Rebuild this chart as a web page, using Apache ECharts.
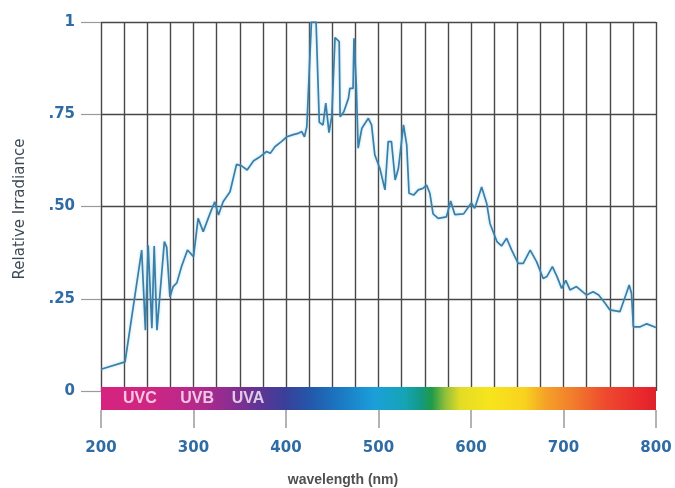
<!DOCTYPE html>
<html><head><meta charset="utf-8">
<script src="https://cdn.jsdelivr.net/npm/echarts@6/dist/echarts.min.js"></script>
<style>html,body{margin:0;padding:0;background:#fff;}#c{width:675px;height:488px;}</style>
</head><body><div id="c"></div>
<script>
var wavelengths = [200,226,244,248,251,255,257.5,260.5,268.5,271,274.5,278,282,287,293.5,300,305,310.5,318,323,327,332,339.5,346.5,352,358,365,372,379,383,388,395,401,407,413,417,420,422.5,427.5,432.5,436,440,443,446.5,449.5,453,457.5,458.5,462.5,467.5,469,472.5,473.5,476,478,482,489,492.5,496,501.5,507,510.5,514,518,521.5,527,530.5,533,538,543,548,552,555.5,559,564.5,573.5,578,582.5,592,600.5,604,611.5,617,620.5,628,633,638.5,644,651,656.5,664,671,678,682,688,693,698,702.5,707,714,725,732,738,745,750,761,768,771,773.5,775.5,783,790,800];
var irradiance = [0.059,0.079,0.382,0.165,0.395,0.17,0.393,0.165,0.405,0.39,0.255,0.283,0.293,0.337,0.382,0.364,0.468,0.432,0.482,0.513,0.477,0.513,0.54,0.614,0.61,0.599,0.624,0.635,0.649,0.644,0.662,0.676,0.689,0.694,0.698,0.703,0.689,0.716,1.0,1.0,0.728,0.721,0.78,0.70,0.745,0.958,0.947,0.743,0.757,0.793,0.82,0.82,0.956,0.829,0.658,0.712,0.739,0.721,0.64,0.603,0.545,0.676,0.676,0.572,0.603,0.721,0.667,0.536,0.531,0.545,0.549,0.558,0.536,0.48,0.468,0.472,0.515,0.478,0.48,0.51,0.495,0.553,0.508,0.454,0.405,0.393,0.414,0.382,0.346,0.346,0.382,0.35,0.305,0.31,0.337,0.31,0.278,0.30,0.274,0.283,0.26,0.269,0.26,0.238,0.22,0.215,0.265,0.287,0.265,0.174,0.174,0.182,0.172];
var yTickLabels = {"0":"0","0.25":".25","0.5":".50","0.75":".75","1":"1"};
var xTickValues = [200,300,400,500,600,700,800];
var bandNames = ["UVC","UVB","UVA"];
var bandCenters = [242,304,359];

var chart = echarts.init(document.getElementById('c'), null, {renderer:'canvas'});
var lineData = wavelengths.map(function(w,i){return [w, irradiance[i]];});
var bandData = bandNames.map(function(n,i){return [bandCenters[i], 0.5, n];});
var labelColor = '#2f6ca4';
var gridColor = '#484848';
chart.setOption({
  animation:false,
  backgroundColor:'#fff',
  grid:[
    {left:101, right:19, top:22, bottom:97},
    {left:101, right:19, top:387, bottom:78}
  ],
  xAxis:[
    {gridIndex:0, type:'value', min:200, max:800, interval:25,
     axisLine:{show:false}, axisTick:{show:false}, axisLabel:{show:false},
     splitLine:{show:true, lineStyle:{color:gridColor, width:1.4}}},
    {gridIndex:1, type:'value', min:200, max:800, interval:100, offset:7,
     axisLine:{show:false},
     axisTick:{show:true, length:18, lineStyle:{color:'#9a9a9a', width:1.5}},
     axisLabel:{show:true, margin:24, color:labelColor, fontSize:15, fontWeight:'bold', fontFamily:'DejaVu Sans',
       formatter:function(v){return xTickValues.indexOf(v)>=0 ? String(v) : '';}},
     splitLine:{show:false}}
  ],
  yAxis:[
    {gridIndex:0, type:'value', min:0, max:1, interval:0.25,
     axisLine:{show:false},
     axisTick:{show:true, length:20, lineStyle:{color:'#9a9a9a', width:1.2}},
     axisLabel:{show:true, margin:26, color:labelColor, fontSize:15, fontWeight:'bold', fontFamily:'DejaVu Sans',
       formatter:function(v){var k=String(+v.toFixed(2)); return yTickLabels[k]!==undefined?yTickLabels[k]:'';}},
     splitLine:{show:true, lineStyle:{color:gridColor, width:1.4}}},
    {gridIndex:1, type:'value', min:0, max:1, show:false}
  ],
  series:[
    {type:'line', xAxisIndex:0, yAxisIndex:0, data:lineData, symbol:'none', z:3,
     lineStyle:{color:'#3b7ea8', width:1.7, shadowColor:'rgba(120,200,235,0.6)', shadowBlur:3}},
    {type:'line', xAxisIndex:1, yAxisIndex:1, data:[[200,0],[800,0]], symbol:'none', lineStyle:{opacity:0}, silent:true,
     markArea:{silent:true, z:4, itemStyle:{opacity:1, color:new echarts.graphic.LinearGradient(0,0,1,0,[
       {offset:0,color:'#d6237f'},{offset:0.088,color:'#cf2683'},{offset:0.178,color:'#b3298c'},
       {offset:0.232,color:'#8c2d91'},{offset:0.286,color:'#5e3595'},{offset:0.331,color:'#3a3f9a'},
       {offset:0.377,color:'#2358aa'},{offset:0.43,color:'#1b78c3'},{offset:0.494,color:'#1ba0da'},
       {offset:0.548,color:'#14a4b4'},{offset:0.575,color:'#139a86'},{offset:0.596,color:'#1f9a48'},
       {offset:0.62,color:'#8fbf3a'},{offset:0.647,color:'#e3dc25'},{offset:0.70,color:'#f7e51c'},
       {offset:0.764,color:'#f8d21e'},{offset:0.80,color:'#f5a228'},{offset:0.854,color:'#f17a2c'},
       {offset:0.908,color:'#ee4a2f'},{offset:0.98,color:'#e8262c'},{offset:1,color:'#d9242b'}])},
       label:{show:false},
       data:[[{coord:[200,0]},{coord:[800,1]}]]}},
    {type:'scatter', xAxisIndex:1, yAxisIndex:1, data:bandData, symbolSize:0, z:6, silent:true,
     label:{show:true, position:'inside', color:'#fdf0f8', fontSize:16, fontWeight:'bold', fontFamily:'Liberation Sans',
       formatter:function(p){return p.data[2];}}}
  ],
  graphic:[
    {type:'text', x:20, y:209, rotation:Math.PI/2, z:10,
     style:{text:'Relative Irradiance', fill:'#3d4a55', font:'15px "DejaVu Sans"', textAlign:'center', textVerticalAlign:'middle'}},
    {type:'text', x:343, y:480, z:10,
     style:{text:'wavelength (nm)', fill:'#505050', font:'bold 14px "Liberation Sans"', textAlign:'center', textVerticalAlign:'middle'}}
  ]
});
</script></body></html>
